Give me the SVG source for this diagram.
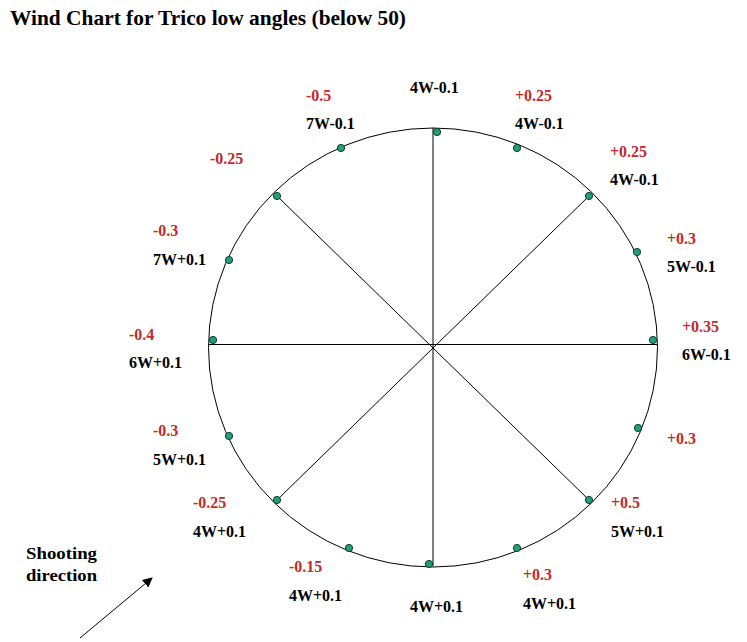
<svg xmlns="http://www.w3.org/2000/svg" width="747" height="642" viewBox="0 0 747 642">
<defs>
<style>
text{font-family:"Liberation Serif","Times New Roman",serif;font-weight:bold;}
.t{font-size:21px;fill:#000;}
.k{font-size:16px;fill:#000;}
.s{font-size:17.5px;fill:#000;}
.r{font-size:16px;fill:#c62828;}
.dot{fill:#22a273;stroke:#0b3b2b;stroke-width:1;}
.ln{stroke:#000;stroke-width:1;fill:none;}
</style>
<marker id="ah" viewBox="0 0 10 10" refX="9" refY="5" markerWidth="10" markerHeight="10" markerUnits="userSpaceOnUse" orient="auto">
<path d="M0,0 L10,5 L0,10 z" fill="#000"/>
</marker>
</defs>
<rect width="747" height="642" fill="#fff"/>
<text class="t" x="10" y="24.5" textLength="396" lengthAdjust="spacingAndGlyphs">Wind Chart for Trico low angles (below 50)</text>

<g id="connectors">
<ellipse class="ln" cx="433" cy="347.5" rx="224.5" ry="219.5"/>
<line class="ln" x1="433" y1="128" x2="433" y2="566"/>
<line class="ln" x1="208" y1="344.5" x2="657" y2="344.5"/>
<line class="ln" x1="277" y1="196" x2="589" y2="500"/>
<line class="ln" x1="589" y1="196" x2="277" y2="500"/>
<line class="ln" x1="80" y1="638" x2="152" y2="578" marker-end="url(#ah)"/>
</g>

<g id="dots">
<circle class="dot" cx="437" cy="132" r="3.6"/>
<circle class="dot" cx="341" cy="148" r="3.6"/>
<circle class="dot" cx="517" cy="148" r="3.6"/>
<circle class="dot" cx="277" cy="196" r="3.6"/>
<circle class="dot" cx="589" cy="196" r="3.6"/>
<circle class="dot" cx="229" cy="260" r="3.6"/>
<circle class="dot" cx="637" cy="252" r="3.6"/>
<circle class="dot" cx="213" cy="340" r="3.6"/>
<circle class="dot" cx="653" cy="340" r="3.6"/>
<circle class="dot" cx="229" cy="436" r="3.6"/>
<circle class="dot" cx="638" cy="428" r="3.6"/>
<circle class="dot" cx="277" cy="500" r="3.6"/>
<circle class="dot" cx="589" cy="500" r="3.6"/>
<circle class="dot" cx="349" cy="548" r="3.6"/>
<circle class="dot" cx="517" cy="548" r="3.6"/>
<circle class="dot" cx="429" cy="564" r="3.6"/>
</g>

<g id="n-top"><text class="k" x="410" y="93">4W-0.1</text></g>
<g id="n-nnw"><text class="r" x="306" y="101">-0.5</text><text class="k" x="306" y="129">7W-0.1</text></g>
<g id="n-nne"><text class="r" x="515" y="101">+0.25</text><text class="k" x="515" y="129">4W-0.1</text></g>
<g id="n-nw"><text class="r" x="210" y="164">-0.25</text></g>
<g id="n-ne"><text class="r" x="610" y="157">+0.25</text><text class="k" x="610" y="185">4W-0.1</text></g>
<g id="n-wnw"><text class="r" x="153" y="236">-0.3</text><text class="k" x="153" y="265">7W+0.1</text></g>
<g id="n-ene"><text class="r" x="667" y="244">+0.3</text><text class="k" x="667" y="272">5W-0.1</text></g>
<g id="n-w"><text class="r" x="129" y="340">-0.4</text><text class="k" x="129" y="368">6W+0.1</text></g>
<g id="n-e"><text class="r" x="682" y="332">+0.35</text><text class="k" x="682" y="360">6W-0.1</text></g>
<g id="n-wsw"><text class="r" x="153" y="436">-0.3</text><text class="k" x="153" y="465">5W+0.1</text></g>
<g id="n-ese"><text class="r" x="667" y="444">+0.3</text></g>
<g id="n-sw"><text class="r" x="193" y="508">-0.25</text><text class="k" x="193" y="537">4W+0.1</text></g>
<g id="n-se"><text class="r" x="611" y="508">+0.5</text><text class="k" x="611" y="537">5W+0.1</text></g>
<g id="n-ssw"><text class="r" x="289" y="572">-0.15</text><text class="k" x="289" y="601">4W+0.1</text></g>
<g id="n-bottom"><text class="k" x="410" y="612">4W+0.1</text></g>
<g id="n-sse"><text class="r" x="523" y="580">+0.3</text><text class="k" x="523" y="609">4W+0.1</text></g>
<g id="n-shoot"><text class="s" x="26" y="559" textLength="71" lengthAdjust="spacingAndGlyphs">Shooting</text><text class="s" x="26" y="581" textLength="71" lengthAdjust="spacingAndGlyphs">direction</text></g>
</svg>
